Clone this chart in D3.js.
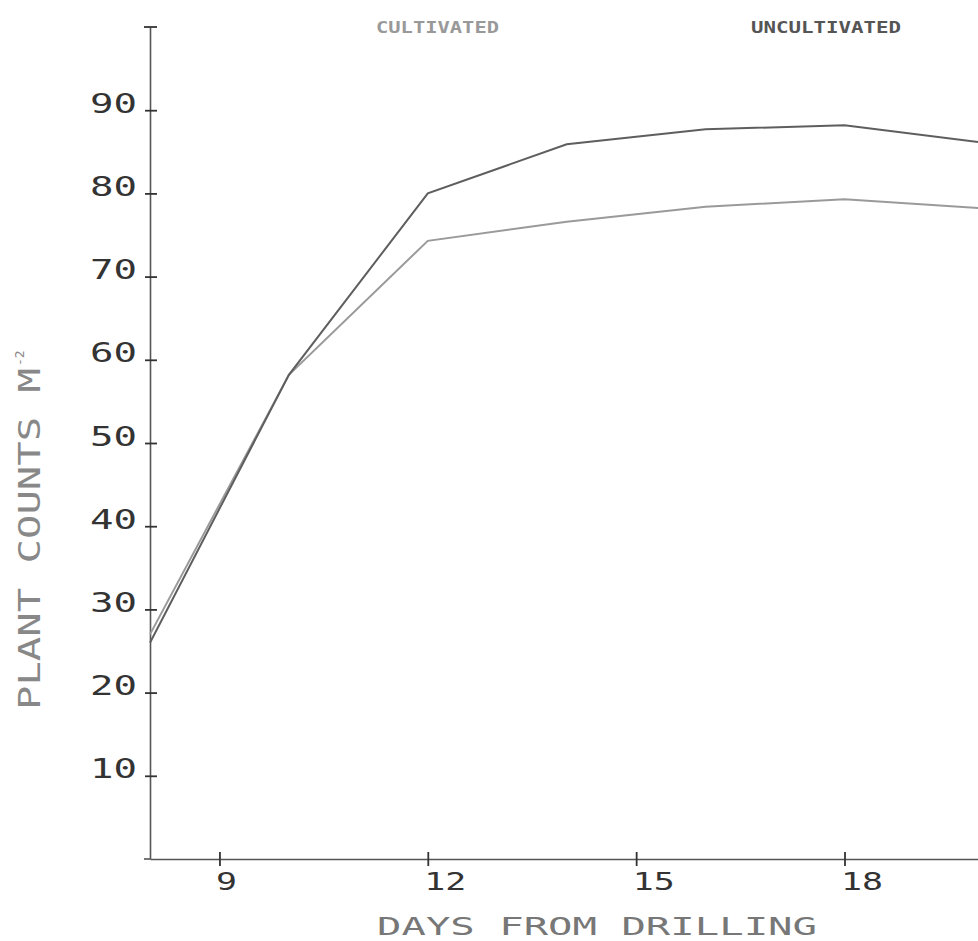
<!DOCTYPE html>
<html>
<head>
<meta charset="utf-8">
<script src="https://cdn.jsdelivr.net/npm/d3@7"></script>
<style>
  body { margin: 0; background: #fff; }
  text { font-family: "DejaVu Sans Mono", monospace; }
</style>
</head>
<body>
<div class="box"></div>
<script>
// DATA
const days = [8, 10, 12, 14, 16, 18, 20];
const cultivated = [27, 58.2, 74.3, 76.6, 78.4, 79.3, 78.2];
const uncultivated = [26, 58.2, 80, 85.9, 87.7, 88.2, 86.1];
const yTicks = [10, 20, 30, 40, 50, 60, 70, 80, 90];
const xTicks = [9, 12, 15, 18];
const seriesNames = ['CULTIVATED', 'UNCULTIVATED'];

// SETUP
const width = 978, height = 941;
const svg = d3.select('.box')
              .append('svg')
              .attr('width', width)
              .attr('height', height)
              .style('background', '#fff');

// 8 days at the axis, ~69.45px per day
const x = d3.scaleLinear().domain([8, 20]).range([150, 150 + 12 * 69.45]);
const y = d3.scaleLinear().domain([0, 100]).range([859, 27]);

const axisColor = '#555';

// y axis
const groupeY = svg.append('g').attr('transform', `translate(${x(8)}, 0)`);
groupeY.call(d3.axisLeft(y).tickValues(yTicks).tickSizeOuter(0).tickFormat(''));
groupeY.select('.domain').attr('stroke', axisColor).attr('stroke-width', 1.6);
groupeY.selectAll('.tick line')
       .attr('x1', -5).attr('x2', 7)
       .attr('stroke', '#333').attr('stroke-width', 1.8);
// cap at the top of the axis
groupeY.append('line')
       .attr('x1', -6).attr('x2', 7)
       .attr('y1', y(100)).attr('y2', y(100))
       .attr('stroke', '#333').attr('stroke-width', 1.8);

// y tick labels, plotter style (wide)
groupeY.selectAll('.tick').append('text')
       .attr('x', -13).attr('y', 2)
       .attr('text-anchor', 'end')
       .attr('fill', '#333')
       .attr('font-size', 26)
       .attr('textLength', d => String(d).length * 23.5)
       .attr('lengthAdjust', 'spacingAndGlyphs')
       .text(d => d);

// x axis
const groupeX = svg.append('g').attr('transform', `translate(0, ${y(0)})`);
groupeX.call(d3.axisBottom(x).tickValues(xTicks).tickSizeOuter(0).tickFormat(''));
groupeX.select('.domain').attr('stroke', axisColor).attr('stroke-width', 1.6);
groupeX.selectAll('.tick line')
       .attr('y1', -7).attr('y2', 7)
       .attr('stroke', '#333').attr('stroke-width', 1.8);
groupeX.append('line')
       .attr('x1', x(8) - 6).attr('x2', x(8))
       .attr('stroke', axisColor).attr('stroke-width', 1.6);
groupeX.selectAll('.tick').append('text')
       .attr('x', -4).attr('y', 31)
       .attr('text-anchor', 'start')
       .attr('fill', '#333')
       .attr('font-size', 24)
       .attr('textLength', d => String(d).length * 21)
       .attr('lengthAdjust', 'spacingAndGlyphs')
       .text(d => d);

// LINES
const line = d3.line()
               .x((d, i) => x(days[i]))
               .y(d => y(d));

svg.append('path')
   .datum(cultivated)
   .attr('d', line)
   .attr('fill', 'none')
   .attr('stroke', '#9a9a9a')
   .attr('stroke-width', 2);

svg.append('path')
   .datum(uncultivated)
   .attr('d', line)
   .attr('fill', 'none')
   .attr('stroke', '#5e5e5e')
   .attr('stroke-width', 2);

// LEGEND labels at the top
svg.append('text')
   .attr('x', 376).attr('y', 33)
   .attr('font-size', 15).attr('font-weight', 'bold')
   .attr('fill', '#999')
   .attr('textLength', 123).attr('lengthAdjust', 'spacingAndGlyphs')
   .text(seriesNames[0]);
svg.append('text')
   .attr('x', 751).attr('y', 33)
   .attr('font-size', 15).attr('font-weight', 'bold')
   .attr('fill', '#555')
   .attr('textLength', 150).attr('lengthAdjust', 'spacingAndGlyphs')
   .text(seriesNames[1]);

// AXIS TITLES
svg.append('text')
   .attr('x', 377).attr('y', 935)
   .attr('font-size', 25)
   .attr('fill', '#777')
   .attr('textLength', 440).attr('lengthAdjust', 'spacingAndGlyphs')
   .text('DAYS FROM DRILLING');

const yTitle = svg.append('g').attr('transform', 'translate(40, 710) rotate(-90)');
yTitle.append('text')
      .attr('x', 0).attr('y', 0)
      .attr('font-size', 30)
      .attr('fill', '#888')
      .attr('textLength', 342).attr('lengthAdjust', 'spacingAndGlyphs')
      .text('PLANT COUNTS M');
yTitle.append('text')
      .attr('x', 344).attr('y', -16)
      .attr('font-size', 13)
      .attr('fill', '#888')
      .text('-2');
</script>
</body>
</html>
